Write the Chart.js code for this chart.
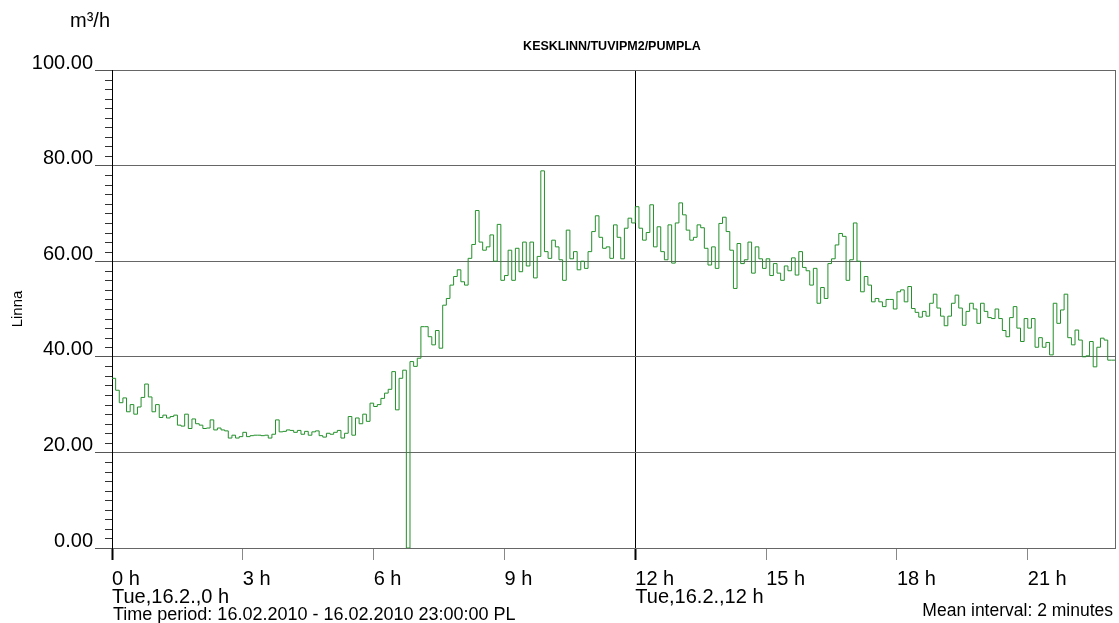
<!DOCTYPE html>
<html>
<head>
<meta charset="utf-8">
<title>KESKLINN/TUVIPM2/PUMPLA</title>
<script src="https://cdn.jsdelivr.net/npm/chart.js@4.4.1/dist/chart.umd.min.js"></script>
<style>
  html, body { margin: 0; padding: 0; background: #fff; }
  #wrap { position: relative; width: 1119px; height: 623px; }
</style>
</head>
<body>
<div id="wrap"><canvas id="chart"></canvas></div>
<script>
// readings every 5 minutes, m3/h
const sampleMinutes = 5;

const nightFlow = [
  35.5, 33, 30.4, 31.4, 28.5, 30, 28, 29.5, 31.5, 34.3, 31.6, 28.5,
  30, 27.3, 27.8, 27.2, 27.5, 27.8, 25.7, 25.5, 28, 25, 27, 26,
  25.7, 25, 25.1, 26.8, 24.7, 25.1, 24.7, 24.5, 23, 23.6, 23, 23.3,
  24.2, 23.3, 23.5, 23.6, 23.6, 23.5, 23.6, 23, 23.8, 26.8, 24.3, 24.4,
  24.7, 24.6, 24.2, 24.6, 23.8, 24.4, 23.6, 24.3, 24.5, 23.5, 23.2, 24,
  23.8, 24.2, 24.6, 23, 24, 27.5, 23.6, 27.2, 26, 28, 26.5, 30.3
];
const morningFlow = [
  29.6, 30, 31.3, 32.4, 33.2, 36.9, 28.9, 35.5, 37.2, 0, 39, 38,
  39.7, 46.3, 46.3, 44.2, 42.5, 45.5, 41.8, 50.8, 52.2, 55, 56.8, 58.2,
  55.7, 55, 60.6, 63.5, 70.6, 64, 62.3, 63, 65.5, 60, 67.7, 56,
  57, 62.3, 56, 62.7, 57.8, 64, 59, 64, 56.5, 61, 78.9, 62,
  60.6, 64.4, 63, 60.3, 56, 66.5, 60.5, 62, 58.2, 60, 58.5, 62,
  66.2, 69.5, 65, 62.7, 63, 60.6, 67.6, 65, 60.5, 66.9, 69, 68
];
const afternoonFlow = [
  71.4, 66.9, 64.4, 66, 71.8, 63, 67.2, 62, 60.3, 67.6, 59.6, 68,
  72.2, 69.7, 66.5, 64.4, 65, 67.6, 67, 62.7, 59.2, 63, 58.5, 67.9,
  69.2, 66.2, 62.3, 54.3, 63.7, 59.5, 60.3, 64, 57.5, 63, 60.5, 58.5,
  60.5, 57, 59.5, 57.5, 56, 59, 58, 60.7, 57.1, 62, 58.7, 58,
  55, 58.5, 51.2, 54.5, 52.2, 59.5, 60.5, 63.4, 65.8, 65.2, 56, 60.3,
  68, 60, 53.6, 56.8, 55, 51.5, 52.2, 51.5, 50.5, 52, 52, 50
];
const eveningFlow = [
  53.6, 54, 51.5, 54.7, 50.1, 49.3, 48.3, 49.5, 48.5, 51.2, 53.1, 50.2,
  48.5, 46.5, 48.5, 51.2, 52.9, 50.2, 46.6, 49.5, 51.2, 50, 47, 51.2,
  49.5, 48.2, 48, 50, 48, 45.5, 44.2, 48.2, 50.5, 46, 43.2, 48,
  46, 48, 42, 44, 42, 43, 40.4, 51.2, 47, 49.8, 53.1, 44,
  42.5, 45.6, 43.5, 40, 40.2, 43.2, 37.9, 42, 43.9, 43.5, 39.3, 39.3,
  39.3
];

const hourTicks = [0, 3, 6, 9, 12, 15, 18, 21, 23];
const dayLabels = { 0: 'Tue,16.2.,0 h', 12: 'Tue,16.2.,12 h' };
const valueTicks = [0, 20, 40, 60, 80, 100];
const minorStep = 2;

const chartTitle = 'KESKLINN/TUVIPM2/PUMPLA';
const unitText = 'm\u00b3/h';
const periodText = 'Time period: 16.02.2010 - 16.02.2010 23:00:00 PL';
const intervalText = 'Mean interval: 2 minutes';

const flow = [].concat(nightFlow, morningFlow, afternoonFlow, eveningFlow);
const points = flow.map((v, i) => ({ x: i * sampleMinutes / 60, y: v }));

const FONT = '"Liberation Sans", Arial, sans-serif';
Chart.defaults.font.family = FONT;
Chart.defaults.color = '#000';

// small ticks on the value axis and the free texts
const frame = {
  id: 'frame',
  afterDraw(chart) {
    const { ctx, chartArea: a, scales } = chart;
    const y = scales.y;
    ctx.save();
    ctx.strokeStyle = '#333';
    ctx.lineWidth = 1;
    ctx.beginPath();
    for (let v = 0; v <= 100; v += minorStep) {
      if (valueTicks.includes(v)) continue;
      const py = Math.round(y.getPixelForValue(v)) + 0.5;
      ctx.moveTo(a.left - 7, py);
      ctx.lineTo(a.left, py);
    }
    ctx.stroke();

    ctx.fillStyle = '#000';
    ctx.textBaseline = 'middle';
    ctx.font = 'bold 12.5px ' + FONT;
    ctx.textAlign = 'center';
    ctx.fillText(chartTitle, 612, 47);

    ctx.font = '20px ' + FONT;
    ctx.textAlign = 'left';
    ctx.fillText(unitText, 70, 21);
    ctx.font = '18px ' + FONT;
    ctx.fillText(periodText, a.left + 1, 615);
    ctx.font = '17.5px ' + FONT;
    ctx.textAlign = 'right';
    ctx.fillText(intervalText, 1113, 611);
    ctx.restore();
  }
};

new Chart(document.getElementById('chart'), {
  type: 'line',
  data: {
    datasets: [{
      label: 'Linna',
      data: points,
      borderColor: '#23902a',
      borderWidth: 1,
      stepped: true,
      pointRadius: 0,
      fill: false
    }]
  },
  options: {
    responsive: true,
    maintainAspectRatio: false,
    animation: false,
    layout: { padding: { top: 70, right: 4, bottom: 0, left: 0 } },
    plugins: { legend: { display: false }, tooltip: { enabled: false } },
    scales: {
      x: {
        type: 'linear',
        min: 0,
        max: 23,
        afterBuildTicks: (s) => { s.ticks = hourTicks.map(v => ({ value: v })); },
        afterFit: (s) => { s.height = 75; s.paddingLeft = 0; s.paddingRight = 0; },
        border: { color: '#666', width: 1 },
        grid: {
          color: (c) => c.tick && c.tick.value === 12 ? '#000' : (c.tick && c.tick.value === 23 ? '#666' : 'rgba(0,0,0,0)'),
          tickColor: (c) => c.tick && (c.tick.value === 0 || c.tick.value === 12) ? '#000' : (c.tick && c.tick.value === 23 ? 'rgba(0,0,0,0)' : '#888'),
          tickWidth: (c) => c.tick && (c.tick.value === 0 || c.tick.value === 12) ? 2 : 1,
          tickLength: 12
        },
        ticks: {
          autoSkip: false,
          maxRotation: 0,
          align: 'start',
          padding: 10,
          color: '#000',
          font: { size: 20, lineHeight: 0.9 },
          callback: (v) => {
            if (v === 23) return '';
            return dayLabels[v] ? [v + ' h', dayLabels[v]] : v + ' h';
          }
        }
      },
      y: {
        min: 0,
        max: 100,
        afterBuildTicks: (s) => { s.ticks = valueTicks.map(v => ({ value: v })); },
        afterFit: (s) => { s.width = 112; },
        border: { color: '#000', width: 1 },
        grid: {
          color: (c) => c.tick && c.tick.value === 0 ? 'rgba(0,0,0,0)' : '#666',
          tickColor: '#555',
          tickLength: 17
        },
        ticks: {
          padding: 2,
          labelOffset: -7,
          color: '#000',
          font: { size: 20 },
          callback: (v) => Number(v).toFixed(2)
        },
        title: {
          display: true,
          text: 'Linna',
          color: '#000',
          font: { size: 15 },
          padding: { top: 9, bottom: 0 }
        }
      }
    }
  },
  plugins: [frame]
});
</script>
</body>
</html>
